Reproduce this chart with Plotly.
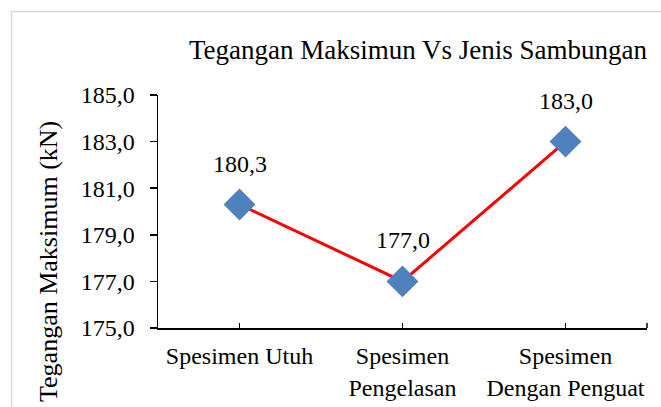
import plotly.graph_objects as go

categories = ["Spesimen Utuh", "Spesimen<br>Pengelasan", "Spesimen<br>Dengan Penguat"]
values = [180.3, 177.0, 183.0]
y_ticks = [175.0, 177.0, 179.0, 181.0, 183.0, 185.0]
title_text = "Tegangan Maksimun Vs Jenis Sambungan"
y_title = "Tegangan Maksimum (kN)"

FONT = "Liberation Serif, Times New Roman, serif"

fig = go.Figure()
fig.add_trace(go.Scatter(
    x=categories, y=values, mode="lines+markers",
    line=dict(color="#FF0000", width=3),
    marker=dict(symbol="diamond", size=24.5, color="#4F81BD", line=dict(width=0)),
    showlegend=False, hoverinfo="skip",
))

for c, v in zip(categories, values):
    fig.add_annotation(
        x=c, y=v, xref="x", yref="y",
        text=f"{v:.1f}".replace(".", ","),
        showarrow=False, yshift=41, yanchor="middle",
        font=dict(family=FONT, size=24, color="#000000"),
    )

L, R, T, B = 158, 14, 95, 79
W, H = 661, 407
pw, ph = W - L - R, H - T - B

# y-axis title as annotation
fig.add_annotation(
    text=y_title, xref="paper", yref="paper",
    x=(48 - L) / pw, y=(H - B - 262) / ph,
    textangle=-90, showarrow=False, xanchor="center", yanchor="middle",
    font=dict(family=FONT, size=26, color="#000000"),
)

# outer chart border (light gray)
fig.add_shape(
    type="rect", xref="paper", yref="paper",
    x0=(11.5 - L) / pw, x1=1.3, y0=-1.0, y1=(H - B - 11.5) / ph,
    line=dict(color="#D9D9D9", width=1.5), fillcolor="rgba(0,0,0,0)", layer="below",
)
# end tick at right of x axis
fig.add_shape(
    type="line", xref="paper", yref="paper",
    x0=1, x1=1, y0=0, y1=5 / ph,
    line=dict(color="#000000", width=1.5),
)

fig.update_layout(
    width=W, height=H,
    margin=dict(l=L, r=R, t=T, b=B, autoexpand=False),
    paper_bgcolor="white", plot_bgcolor="white",
    separators=",.",
    font=dict(family=FONT, color="#000000"),
    title=dict(
        text=title_text, x=418 / W, xanchor="center", xref="container",
        y=1 - 50 / H, yanchor="middle", yref="container",
        font=dict(family=FONT, size=27, color="#000000"),
    ),
    xaxis=dict(
        type="category", range=[-0.5, 2.5], automargin=False,
        showline=True, linecolor="#000000", linewidth=1.5,
        ticks="inside", ticklen=5, tickwidth=1.5, tickcolor="#000000",
        showgrid=False, zeroline=False,
        tickfont=dict(family=FONT, size=24, color="#000000"),
        ticklabelstandoff=6,
    ),
    yaxis=dict(
        range=[175, 185], tickvals=y_ticks, tickformat=".1f", automargin=False,
        showline=True, linecolor="#000000", linewidth=1.5,
        ticks="outside", ticklen=7, tickwidth=1.5, tickcolor="#000000",
        showgrid=False, zeroline=False,
        tickfont=dict(family=FONT, size=24, color="#000000"),
        ticklabelstandoff=10,
    ),
)

fig.write_html(
    "out.html",
    config={"displayModeBar": False, "staticPlot": True},
    post_script="document.body.style.margin='0';document.body.style.overflow='hidden';",
)
